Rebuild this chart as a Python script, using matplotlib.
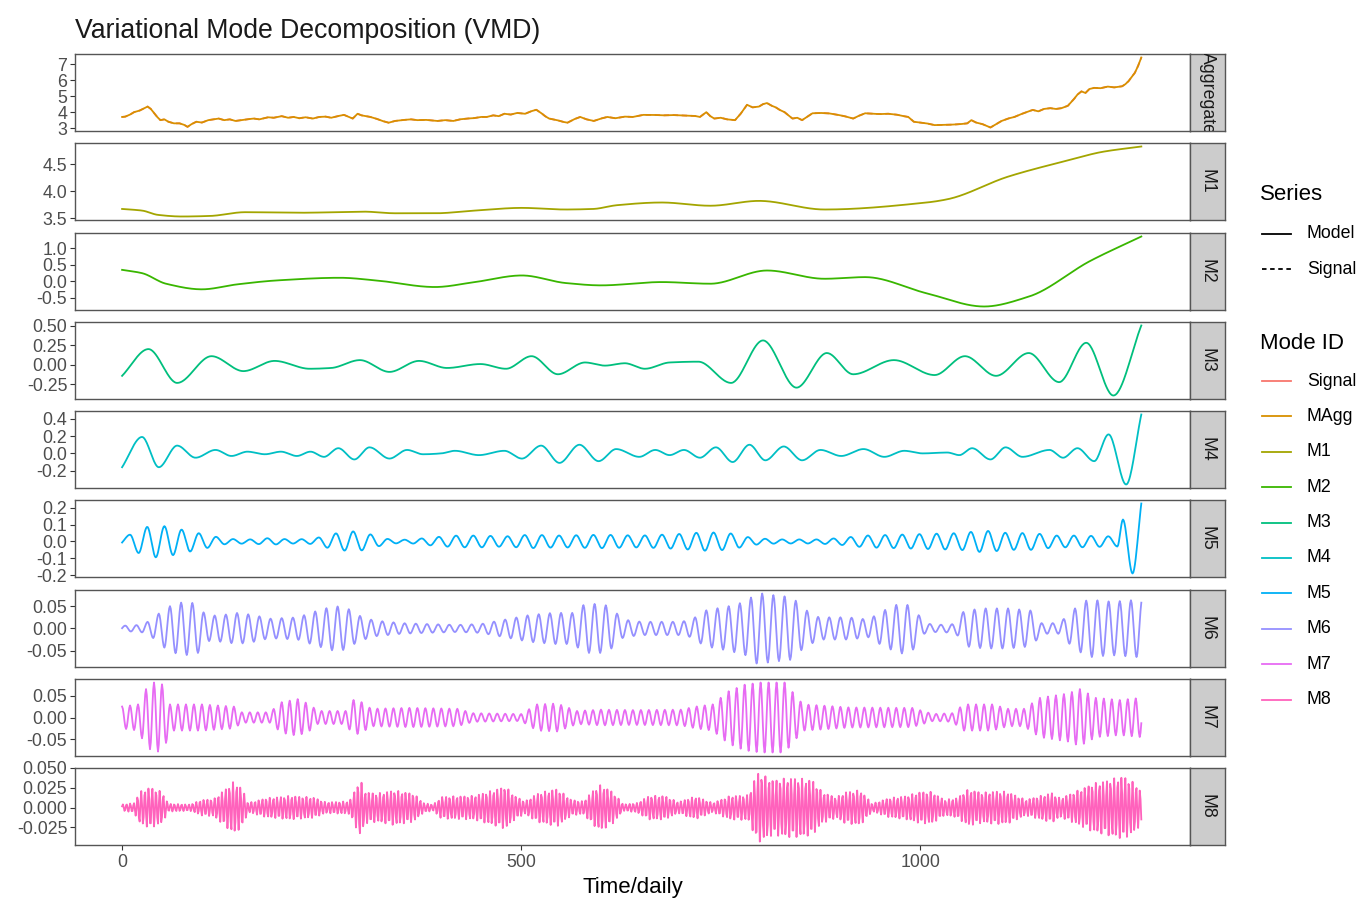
import numpy as np
import matplotlib.pyplot as plt
from matplotlib.lines import Line2D

plt.rcParams['font.family'] = ['Liberation Sans', 'DejaVu Sans']

# aggregate signal (daily)
agg_t = [0, 4, 10, 15, 22, 28, 32, 36, 40, 44, 48, 53, 58, 65, 72, 78, 82, 87, 93, 100,
         108, 115, 121, 128, 135, 142, 149, 156, 165, 172, 183, 190, 200, 208, 215, 222, 230, 239, 247, 255,
         262, 270, 278, 284, 289, 295, 300, 306, 311, 318, 326, 334, 342, 350, 362, 370, 380, 395, 405, 415,
         423, 432, 440, 450, 457, 465, 472, 479, 487, 495, 505, 512, 519, 525, 530, 535, 545, 552, 558, 566,
         574, 582, 591, 600, 608, 618, 630, 640, 653, 665, 678, 690, 700, 710, 717, 724, 732, 737, 742, 750,
         758, 768, 775, 783, 790, 798, 803, 808, 814, 819, 824, 830, 836, 840, 846, 852, 858, 865, 875, 885,
         895, 905, 916, 922, 931, 940, 950, 960, 970, 977, 985, 992, 1000, 1008, 1018, 1028, 1040, 1050, 1059, 1064,
         1070, 1078, 1088, 1095, 1102, 1110, 1118, 1125, 1133, 1141, 1148, 1155, 1163, 1170, 1177, 1185, 1192, 1197, 1202, 1207,
         1212, 1218, 1226, 1235, 1243, 1253, 1257, 1261, 1265, 1269, 1273, 1277]
agg_v = [3.70, 3.72, 3.85, 4.00, 4.10, 4.25, 4.35, 4.20, 3.95, 3.70, 3.50, 3.55, 3.40, 3.30, 3.30, 3.20, 3.08, 3.25, 3.40, 3.35,
         3.50, 3.55, 3.60, 3.50, 3.55, 3.45, 3.50, 3.55, 3.60, 3.55, 3.68, 3.65, 3.75, 3.65, 3.70, 3.62, 3.68, 3.60, 3.70, 3.72,
         3.65, 3.75, 3.83, 3.70, 3.60, 3.90, 3.80, 3.75, 3.70, 3.60, 3.45, 3.34, 3.45, 3.50, 3.55, 3.50, 3.52, 3.45, 3.50, 3.45,
         3.55, 3.60, 3.62, 3.70, 3.70, 3.80, 3.75, 3.90, 3.85, 3.95, 3.90, 4.05, 4.15, 3.95, 3.75, 3.60, 3.50, 3.40, 3.34, 3.55,
         3.70, 3.55, 3.45, 3.60, 3.70, 3.62, 3.72, 3.70, 3.83, 3.83, 3.80, 3.82, 3.80, 3.78, 3.77, 3.70, 4.00, 3.75, 3.60, 3.65,
         3.55, 3.50, 3.90, 4.46, 4.30, 4.35, 4.50, 4.57, 4.40, 4.30, 4.14, 4.00, 3.75, 3.60, 3.65, 3.50, 3.70, 3.93, 3.95, 3.93,
         3.85, 3.75, 3.60, 3.75, 3.93, 3.90, 3.88, 3.90, 3.85, 3.77, 3.70, 3.40, 3.35, 3.30, 3.19, 3.20, 3.22, 3.25, 3.30, 3.50,
         3.35, 3.25, 3.04, 3.25, 3.45, 3.60, 3.70, 3.85, 4.00, 4.14, 4.05, 4.20, 4.25, 4.20, 4.25, 4.40, 4.78, 5.10, 5.30, 5.20,
         5.45, 5.52, 5.50, 5.60, 5.55, 5.62, 5.75, 5.94, 6.20, 6.47, 6.90, 7.42]

# slow modes, read at turning points
m1_t = [0, 25, 45, 75, 110, 154, 224, 303, 342, 392, 442, 501, 555, 590, 620, 676, 737, 798, 880, 1008,
        1034, 1110, 1187, 1228, 1277]
m1_v = [3.67, 3.64, 3.56, 3.53, 3.54, 3.61, 3.60, 3.62, 3.59, 3.59, 3.64, 3.69, 3.66, 3.67, 3.74, 3.79, 3.73, 3.82, 3.66, 3.79,
        3.85, 4.27, 4.58, 4.73, 4.83]

m2_t = [0, 25, 55, 100, 144, 194, 273, 318, 392, 442, 501, 556, 600, 676, 737, 808, 880, 931, 1008, 1080,
        1136, 1213, 1277]
m2_v = [0.35, 0.25, -0.07, -0.24, -0.09, 0.03, 0.11, 0.03, -0.17, -0.02, 0.18, -0.05, -0.12, -0.02, -0.07, 0.33, 0.08, 0.13, -0.36, -0.76,
        -0.46, 0.62, 1.36]

m3_t = [0, 33, 69, 112, 152, 191, 235, 262, 298, 335, 372, 407, 449, 481, 513, 546, 580, 605, 630, 655,
        686, 722, 763, 803, 845, 883, 916, 967, 1018, 1056, 1095, 1136, 1174, 1208, 1242, 1277]
m3_v = [-0.14, 0.20, -0.23, 0.11, -0.08, 0.05, -0.05, -0.04, 0.06, -0.09, 0.05, -0.04, 0.01, -0.05, 0.11, -0.12, 0.03, -0.01, 0.02, -0.05,
        0.03, 0.04, -0.23, 0.31, -0.29, 0.15, -0.12, 0.06, -0.13, 0.11, -0.14, 0.15, -0.22, 0.28, -0.39, 0.50]

m4_t = [0, 25, 46, 69, 92, 117, 137, 157, 179, 199, 219, 236, 253, 271, 291, 310, 335, 357, 377, 400,
        417, 447, 479, 501, 525, 548, 573, 597, 619, 648, 668, 686, 704, 724, 744, 765, 786, 806, 829, 852,
        875, 901, 929, 955, 980, 1003, 1034, 1049, 1065, 1088, 1107, 1128, 1162, 1179, 1197, 1218, 1236, 1258, 1277]
m4_v = [-0.16, 0.19, -0.16, 0.09, -0.05, 0.04, -0.03, 0.02, -0.01, 0.02, -0.03, 0.02, -0.04, 0.06, -0.07, 0.07, -0.06, 0.04, -0.01, 0.00,
        0.03, -0.02, 0.03, -0.06, 0.09, -0.11, 0.10, -0.09, 0.05, -0.04, 0.04, -0.02, 0.04, -0.05, 0.07, -0.10, 0.10, -0.08, 0.08, -0.08,
        0.04, -0.03, 0.05, -0.04, 0.03, 0.00, 0.01, -0.02, 0.06, -0.07, 0.07, -0.04, 0.04, -0.05, 0.06, -0.09, 0.22, -0.36, 0.45]

# fast modes: envelope amplitude + period (days), first peak day
m5_env_t = [0, 10, 25, 40, 55, 75, 95, 115, 130, 160, 185, 210, 240, 255, 270, 290, 305, 320, 335, 360,
            390, 420, 450, 480, 510, 550, 600, 650, 700, 730, 760, 790, 820, 870, 900, 930, 970, 1010, 1050, 1080,
            1110, 1140, 1170, 1200, 1240]
m5_env_v = [0.01, 0.04, 0.08, 0.095, 0.09, 0.07, 0.05, 0.03, 0.015, 0.012, 0.02, 0.012, 0.015, 0.035, 0.05, 0.06, 0.05, 0.03, 0.012, 0.01,
            0.025, 0.035, 0.035, 0.03, 0.04, 0.035, 0.04, 0.035, 0.045, 0.055, 0.05, 0.02, 0.012, 0.012, 0.02, 0.035, 0.04, 0.045, 0.05, 0.065,
            0.05, 0.05, 0.035, 0.035, 0.03]
m5_period, m5_first_peak = 21.5, 10
m5_tail_t = [1247, 1254, 1266, 1277]
m5_tail_v = [-0.03, 0.13, -0.19, 0.225]

m6_env_t = [0, 24, 38, 50, 65, 80, 95, 105, 125, 145, 165, 185, 220, 245, 265, 280, 295, 315, 350, 380,
            420, 450, 480, 510, 540, 565, 580, 600, 610, 628, 650, 700, 714, 730, 760, 781, 796, 815, 840, 853,
            873, 910, 935, 954, 975, 990, 1005, 1020, 1045, 1055, 1080, 1110, 1140, 1151, 1175, 1190, 1210, 1240, 1277]
m6_env_v = [0.006, 0.008, 0.02, 0.04, 0.055, 0.06, 0.055, 0.028, 0.03, 0.035, 0.03, 0.022, 0.025, 0.04, 0.05, 0.048, 0.03, 0.018, 0.012, 0.01,
            0.008, 0.01, 0.02, 0.03, 0.035, 0.035, 0.055, 0.055, 0.05, 0.02, 0.015, 0.015, 0.02, 0.04, 0.05, 0.06, 0.08, 0.075, 0.07, 0.045,
            0.025, 0.025, 0.02, 0.04, 0.057, 0.05, 0.012, 0.008, 0.01, 0.04, 0.045, 0.045, 0.04, 0.012, 0.012, 0.04, 0.065, 0.06, 0.065]
m6_period, m6_first_peak = 14.0, 4

m7_env_t = [0, 20, 30, 40, 52, 60, 100, 140, 150, 185, 200, 220, 235, 245, 280, 290, 300, 312, 360, 420,
            440, 500, 520, 545, 570, 600, 640, 700, 719, 740, 760, 780, 800, 830, 853, 880, 911, 990, 1016, 1040,
            1055, 1090, 1110, 1130, 1150, 1185, 1200, 1220, 1250, 1277]
m7_env_v = [0.025, 0.03, 0.065, 0.08, 0.075, 0.03, 0.03, 0.025, 0.012, 0.012, 0.035, 0.042, 0.03, 0.015, 0.015, 0.04, 0.035, 0.02, 0.022, 0.02,
            0.01, 0.008, 0.03, 0.032, 0.015, 0.018, 0.017, 0.018, 0.025, 0.03, 0.06, 0.075, 0.08, 0.08, 0.03, 0.027, 0.023, 0.022, 0.008, 0.01,
            0.03, 0.03, 0.02, 0.02, 0.045, 0.055, 0.065, 0.045, 0.04, 0.045]
m7_period, m7_first_peak = 10.0, 0

m8_env_t = [0, 15, 22, 35, 50, 58, 85, 100, 115, 125, 140, 150, 158, 180, 210, 240, 255, 285, 293, 298,
            305, 320, 340, 365, 378, 390, 400, 440, 465, 480, 492, 505, 520, 545, 563, 578, 590, 600, 615, 628,
            645, 660, 680, 697, 710, 720, 740, 762, 785, 796, 805, 815, 840, 865, 877, 895, 906, 925, 940, 960,
            983, 1000, 1015, 1030, 1045, 1060, 1079, 1095, 1110, 1132, 1151, 1165, 1175, 1194, 1215, 1235, 1255, 1270, 1277]
m8_env_v = [0.004, 0.006, 0.02, 0.026, 0.02, 0.005, 0.004, 0.01, 0.011, 0.02, 0.033, 0.025, 0.006, 0.012, 0.015, 0.013, 0.007, 0.008, 0.025, 0.036,
            0.02, 0.018, 0.022, 0.018, 0.006, 0.004, 0.014, 0.015, 0.022, 0.027, 0.015, 0.008, 0.018, 0.024, 0.01, 0.008, 0.022, 0.029, 0.02, 0.004,
            0.006, 0.015, 0.015, 0.007, 0.012, 0.014, 0.006, 0.015, 0.016, 0.045, 0.04, 0.035, 0.038, 0.035, 0.02, 0.013, 0.02, 0.022, 0.005, 0.012,
            0.015, 0.02, 0.02, 0.01, 0.012, 0.023, 0.019, 0.021, 0.02, 0.01, 0.015, 0.019, 0.012, 0.02, 0.03, 0.035, 0.04, 0.03, 0.02]
m8_period, m8_first_peak = 4.6, 1

mode_names = ['Signal', 'MAgg', 'M1', 'M2', 'M3', 'M4', 'M5', 'M6', 'M7', 'M8']
mode_colors = ['#F8766D', '#D89000', '#A3A500', '#39B600', '#00BF7D',
               '#00BFC4', '#00B0F6', '#9590FF', '#E76BF3', '#FF62BC']
colors = dict(zip(mode_names, mode_colors))

days = np.arange(0, 1278)


def pchip(xk, yk, x):
    # monotone cubic through the knots (flat at turning points)
    xk = np.asarray(xk, float)
    yk = np.asarray(yk, float)
    h = np.diff(xk)
    d = np.diff(yk) / h
    m = np.zeros_like(yk)
    for i in range(1, len(xk) - 1):
        if d[i - 1] * d[i] > 0:
            w1 = 2 * h[i] + h[i - 1]
            w2 = h[i] + 2 * h[i - 1]
            m[i] = (w1 + w2) / (w1 / d[i - 1] + w2 / d[i])
    m[0], m[-1] = d[0], d[-1]
    idx = np.clip(np.searchsorted(xk, x, side='right') - 1, 0, len(h) - 1)
    s = (x - xk[idx]) / h[idx]
    h00 = 2 * s**3 - 3 * s**2 + 1
    h10 = s**3 - 2 * s**2 + s
    h01 = -2 * s**3 + 3 * s**2
    h11 = s**3 - s**2
    return (h00 * yk[idx] + h10 * h[idx] * m[idx]
            + h01 * yk[idx + 1] + h11 * h[idx] * m[idx + 1])


def turning_points(env_t, env_v, period, first_peak, stop=1290):
    tk = np.arange(first_peak - period / 2, stop, period / 2)
    sign = np.where(np.arange(len(tk)) % 2 == 0, -1.0, 1.0)
    return tk, sign * np.interp(tk, env_t, env_v)


agg = np.interp(days, agg_t, agg_v)
m1 = pchip(m1_t, m1_v, days)
m2 = pchip(m2_t, m2_v, days)
m3 = pchip(m3_t, m3_v, days)
m4 = pchip(m4_t, m4_v, days)

tk, vk = turning_points(m5_env_t, m5_env_v, m5_period, m5_first_peak, stop=1240)
if vk[-1] < 0:
    tk, vk = tk[:-1], vk[:-1]
m5 = pchip(np.r_[tk, m5_tail_t], np.r_[vk, m5_tail_v], days)
m6 = pchip(*turning_points(m6_env_t, m6_env_v, m6_period, m6_first_peak), days)
m7 = pchip(*turning_points(m7_env_t, m7_env_v, m7_period, m7_first_peak), days)
m8 = pchip(*turning_points(m8_env_t, m8_env_v, m8_period, m8_first_peak), days)

panels = [
    ('Aggregate', [('Signal', agg, '--'), ('MAgg', agg, '-')], [3, 4, 5, 6, 7], ['3', '4', '5', '6', '7']),
    ('M1', [('M1', m1, '-')], [3.5, 4.0, 4.5], ['3.5', '4.0', '4.5']),
    ('M2', [('M2', m2, '-')], [-0.5, 0, 0.5, 1.0], ['-0.5', '0.0', '0.5', '1.0']),
    ('M3', [('M3', m3, '-')], [-0.25, 0, 0.25, 0.5], ['-0.25', '0.00', '0.25', '0.50']),
    ('M4', [('M4', m4, '-')], [-0.2, 0, 0.2, 0.4], ['-0.2', '0.0', '0.2', '0.4']),
    ('M5', [('M5', m5, '-')], [-0.2, -0.1, 0, 0.1, 0.2], ['-0.2', '-0.1', '0.0', '0.1', '0.2']),
    ('M6', [('M6', m6, '-')], [-0.05, 0, 0.05], ['-0.05', '0.00', '0.05']),
    ('M7', [('M7', m7, '-')], [-0.05, 0, 0.05], ['-0.05', '0.00', '0.05']),
    ('M8', [('M8', m8, '-')], [-0.025, 0, 0.025, 0.05], ['-0.025', '0.000', '0.025', '0.050']),
]

W, H = 1359, 900
fig = plt.figure(figsize=(W / 100, H / 100), dpi=100)


def fx(px):
    return px / W


def fy(py):
    return 1 - py / H


left, right, strip_w = 75, 1190, 35
row_tops = [54, 143, 233, 322, 411, 500, 590, 679, 768]
row_h = 77
border = '#555555'

for i, (name, lines, ticks, labels) in enumerate(panels):
    top = row_tops[i]
    ax = fig.add_axes([fx(left), fy(top + row_h), fx(right - left), row_h / H])
    for mode, values, ls in lines:
        ax.plot(days, values, color=colors[mode], lw=1.3, ls=ls,
                dashes=(3, 2) if ls == '--' else (None, None))
    ax.set_xlim(-59, 1338)
    ax.margins(y=0.05)
    ax.set_yticks(ticks)
    ax.set_yticklabels(labels)
    ax.set_xticks([0, 500, 1000])
    ax.tick_params(axis='y', direction='out', length=3.5, width=0.8, color='#333333',
                   labelcolor='#4D4D4D', labelsize=12.8, pad=2)
    last = i == len(panels) - 1
    ax.tick_params(axis='x', direction='out', length=3.5, width=0.8, color='#333333',
                   labelcolor='#4D4D4D', labelsize=12.8, pad=3,
                   bottom=last, labelbottom=last)
    ax.set_xticklabels(['0', '500', '1000'])
    for sp in ax.spines.values():
        sp.set_color(border)
        sp.set_linewidth(1.0)

    sax = fig.add_axes([fx(right), fy(top + row_h), fx(strip_w), row_h / H])
    sax.set_facecolor('#CCCCCC')
    sax.set_xticks([])
    sax.set_yticks([])
    for sp in sax.spines.values():
        sp.set_color(border)
        sp.set_linewidth(1.0)
    sax.text(0.5, 0.5, name, rotation=-90, ha='center', va='center', fontsize=12.8,
             color='#1A1A1A', transform=sax.transAxes, clip_on=True)

fig.text(fx(75), fy(38), 'Variational Mode Decomposition (VMD)', fontsize=19.2,
         ha='left', va='baseline', color='#1A1A1A')
fig.text(fx(633), fy(888), 'Time/daily', fontsize=16, ha='center', va='center', color='black')

# legends
key_x0, key_x1, lab_x = 1262, 1291, 1307
fig.text(fx(1260), fy(194), 'Series', fontsize=16, va='center', color='black')
for y, label, ls in [(234, 'Model', '-'), (269, 'Signal', '--')]:
    fig.add_artist(Line2D([fx(key_x0), fx(key_x1)], [fy(y), fy(y)], color='black', lw=1.3,
                          ls=ls, dashes=(2.5, 2) if ls == '--' else (None, None),
                          transform=fig.transFigure))
    fig.text(fx(lab_x), fy(y), label, fontsize=12.8, va='center', color='black')

fig.text(fx(1260), fy(343), 'Mode ID', fontsize=16, va='center', color='black')
for k, mode in enumerate(mode_names):
    y = 381 + 35.4 * k
    fig.add_artist(Line2D([fx(key_x0), fx(key_x1)], [fy(y), fy(y)], color=colors[mode], lw=1.3,
                          transform=fig.transFigure))
    fig.text(fx(lab_x), fy(y), mode, fontsize=12.8, va='center', color='black')

fig.savefig('out.png', dpi=100)
